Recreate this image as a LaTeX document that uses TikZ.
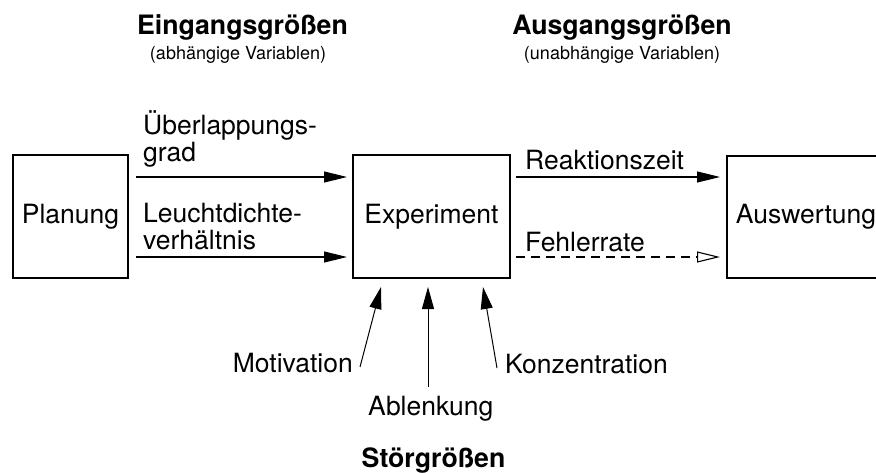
\documentclass[tikz,border=0pt]{standalone}
\usepackage{fontspec}
\setmainfont{TeX Gyre Heros}
\usetikzlibrary{arrows.meta,calc}
\begin{document}
\begin{tikzpicture}[x=1pt,y=-1pt,
  box/.style={draw, line width=1.8pt, inner sep=0pt, outer sep=0pt, font=\fontsize{26.5}{30}\selectfont},
  lbl/.style={inner sep=0pt, font=\fontsize{26.5}{30}\selectfont},
  ttl/.style={inner sep=0pt, anchor=base, font=\fontsize{26.7}{30}\selectfont\bfseries},
  sub/.style={inner sep=0pt, anchor=base, font=\fontsize{18}{22}\selectfont},
  arr/.style={line width=1.1pt, -{Triangle[length=23pt,width=11pt]}},
  oarr/.style={line width=1.1pt, dash pattern=on 9pt off 6pt, -{Triangle[open,length=23pt,width=11pt,fill=white]}},
  sarr/.style={line width=1pt, -{Triangle[length=22pt,width=12pt]}}]
\clip (0,0) rectangle (876,473);
% boxes
\node[box, minimum width=115pt, minimum height=123pt] (plan) at (70.5,216.5) {Planung};
\node[box, minimum width=157pt, minimum height=123pt] (exp) at (431.5,216.5) {Experiment};
\node[box, minimum width=158pt, minimum height=122pt] (ausw) at (806,217) {Auswertung};
% titles
\node[ttl] (tin) at (242.5,35) {Eingangsgrößen};
\node[sub] (sin) at (238,60) {(abhängige Variablen)};
\node[ttl] (tout) at (622,35) {Ausgangsgrößen};
\node[sub] (sout) at (622,60) {(unabhängige Variablen)};
\node[ttl] (tstoer) at (433.5,467) {Störgrößen};
% input labels
\node[lbl, anchor=base west] (l1a) at (143,135) {Überlappungs-};
\node[lbl, anchor=base west] (l1b) at (143,162) {grad};
\node[lbl, anchor=base west] (l2a) at (143,223) {Leuchtdichte-};
\node[lbl, anchor=base west] (l2b) at (143,250) {verhältnis};
% output labels
\node[lbl, anchor=base west] (o1) at (525,170) {Reaktionszeit};
\node[lbl, anchor=base west] (o2) at (525,252) {Fehlerrate};
% disturbance labels
\node[lbl, anchor=base east] (d1) at (353,372) {Motivation};
\node[lbl, anchor=base west] (d2) at (368,415) {Ablenkung};
\node[lbl, anchor=base west] (d3) at (505,373) {Konzentration};
% connectors
\coordinate (r1) at (0,177);
\coordinate (r2) at (0,257);
\draw[arr, shorten <=8pt, shorten >=6pt] (plan.east |- r1) -- (exp.west |- r1);
\draw[arr, shorten <=8pt, shorten >=6pt] (plan.east |- r2) -- (exp.west |- r2);
\draw[arr, shorten <=6pt, shorten >=7pt] (exp.east |- r1) -- (ausw.west |- r1);
\draw[oarr, shorten <=6pt, shorten >=7pt] (exp.east |- r2) -- (ausw.west |- r2);
\coordinate (m0) at (360,367);
\coordinate (a0) at (428,387);
\coordinate (k0) at (497,368);
\draw[sarr] (m0) -- ($(exp.south)+(-50.5,9)$);
\draw[sarr] (a0) -- ($(exp.south)+(-3.5,9)$);
\draw[sarr] (k0) -- ($(exp.south)+(51.5,9)$);
\end{tikzpicture}
\end{document}
